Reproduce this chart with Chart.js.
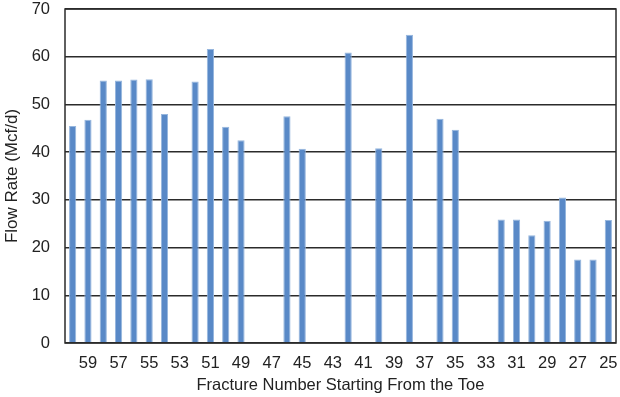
<!DOCTYPE html>
<html>
<head>
<meta charset="utf-8">
<script src="https://cdn.jsdelivr.net/npm/chart.js@4"></script>
<style>
  html, body { margin: 0; padding: 0; background: #fff; }
  #wrap { width: 620px; height: 397px; }
</style>
</head>
<body>
<div id="wrap"><canvas id="barChart"></canvas></div>
<script>
// fracture numbers, toe first (60 down to 25)
const fractures = [60, 59, 58, 57, 56, 55, 54, 53, 52, 51, 50, 49, 48, 47, 46, 45, 44, 43,
                   42, 41, 40, 39, 38, 37, 36, 35, 34, 33, 32, 31, 30, 29, 28, 27, 26, 25];
// flow rate per fracture, Mcf/d (null = no bar)
const flowRate = [45.5, 46.8, 55.0, 55.0, 55.2, 55.3, 48.0, null, 54.8, 61.6, 45.3, 42.5, null, null, 47.5, 40.7, null, null,
                  60.9, null, 40.8, null, 64.6, null, 47.0, 44.7, null, null, 25.9, 25.9, 22.6, 25.6, 30.5, 17.5, 17.5, 25.8];
const yTicks = [0, 10, 20, 30, 40, 50, 60, 70];

const font = { family: '"Liberation Sans", Arial, Helvetica, sans-serif', size: 16.5 };
const yTitleFont = { family: font.family, size: 17 };

// box around the plot area
const frame = {
  id: 'frame',
  afterDraw(chart) {
    const a = chart.chartArea, c = chart.ctx;
    c.save();
    c.strokeStyle = '#2b2b2b';
    c.lineWidth = 1.5;
    c.strokeRect(a.left, a.top, a.right - a.left, a.bottom - a.top);
    c.restore();
  }
};

// drop the extra room chart.js keeps for edge labels
const noPad = s => { s.paddingTop = 0; s.paddingBottom = 0; s.paddingLeft = 0; s.paddingRight = 0; };

new Chart(document.getElementById('barChart'), {
  type: 'bar',
  data: {
    labels: fractures,
    datasets: [{
      label: 'Flow Rate',
      data: flowRate,
      backgroundColor: 'rgb(89,137,199)',
      borderColor: 'rgb(150,182,222)',
      borderWidth: 1,
      categoryPercentage: 1,
      barPercentage: 0.47
    }]
  },
  options: {
    responsive: true,
    maintainAspectRatio: false,
    animation: false,
    layout: { padding: { top: 9, right: 4, left: 0, bottom: 0 } },
    plugins: { legend: { display: false }, tooltip: { enabled: false } },
    scales: {
      x: {
        grid: { display: false, drawTicks: false },
        border: { display: false },
        ticks: {
          autoSkip: false, maxRotation: 0, padding: 11, color: '#222', font: font,
          callback: (v, i) => fractures[i] % 2 ? String(fractures[i]) : ''
        },
        title: { display: true, text: 'Fracture Number Starting From the Toe', color: '#222', font: font, padding: { top: 0, bottom: 2 } },
        afterFit: s => { s.height = 54; noPad(s); }
      },
      y: {
        min: 0, max: 70,
        afterBuildTicks: s => { s.ticks = yTicks.map(v => ({ value: v })); },
        grid: { color: '#2b2b2b', lineWidth: 1.4, drawTicks: false },
        border: { display: false },
        ticks: { padding: 15, color: '#222', font: font },
        title: { display: true, text: 'Flow Rate (Mcf/d)', color: '#222', font: yTitleFont, padding: { top: 2, bottom: 0 } },
        afterFit: s => { s.width = 65; noPad(s); }
      }
    }
  },
  plugins: [frame]
});
</script>
</body>
</html>
